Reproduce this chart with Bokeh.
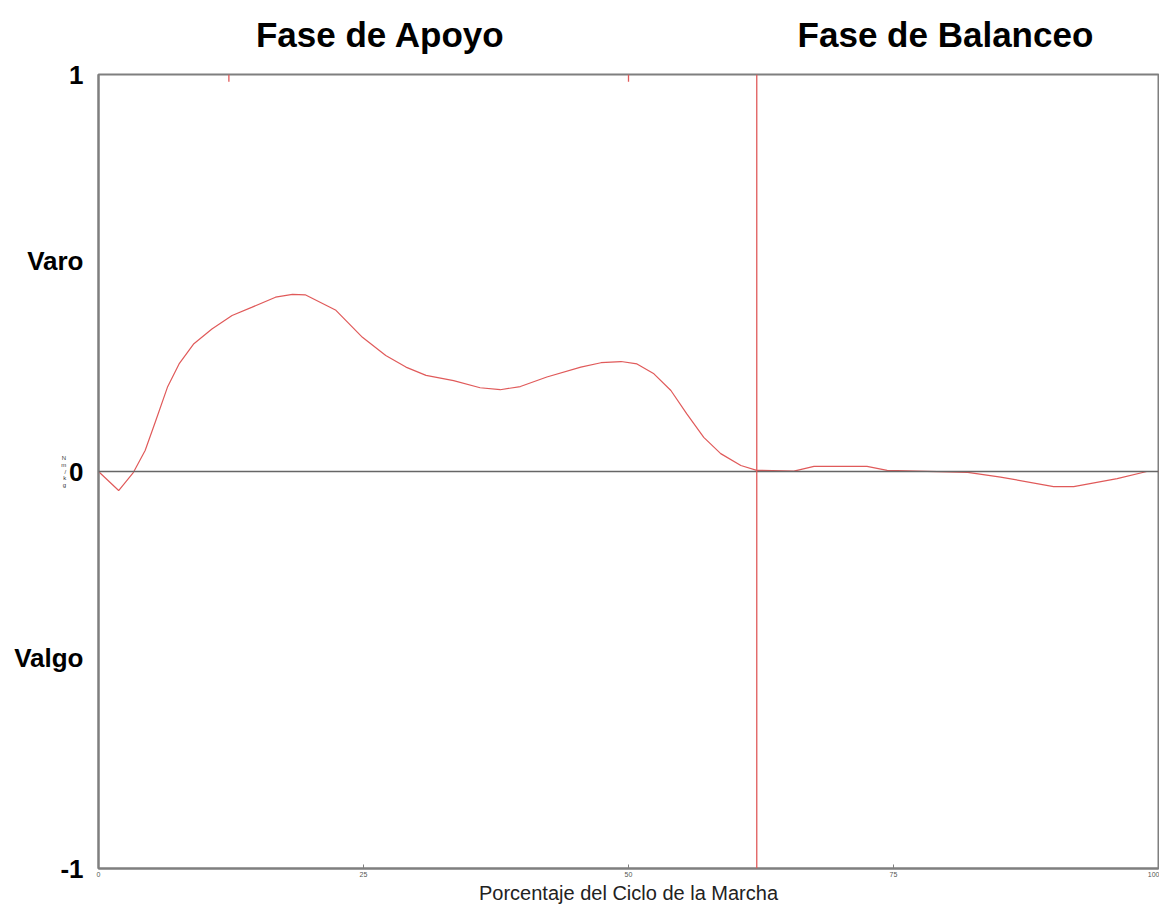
from bokeh.plotting import figure
from bokeh.models import Range1d, FixedTicker, Span, LinearAxis
from bokeh.embed import file_html
from bokeh.resources import INLINE

# Data: knee varus/valgus moment (Nm/kg) vs % gait cycle
pct = [0, 1.9, 3.3, 4.4, 5.4, 6.5, 7.6, 9.0, 10.7, 12.6, 14.5, 16.7, 18.3, 19.5,
       22.4, 24.9, 27.1, 29.0, 30.9, 33.5, 36.0, 37.9, 39.8, 42.3, 45.5, 47.4,
       49.3, 50.8, 52.4, 54.0, 55.5, 57.1, 58.7, 60.6, 62.1, 65.6, 67.5, 72.5,
       74.4, 82.0, 85.1, 90.1, 92.0, 96.1, 98.9, 100]
moment = [0, -0.048, -0.002, 0.053, 0.128, 0.212, 0.271, 0.322, 0.359, 0.393,
          0.414, 0.439, 0.446, 0.445, 0.406, 0.338, 0.292, 0.263, 0.242, 0.229,
          0.211, 0.206, 0.214, 0.238, 0.263, 0.274, 0.277, 0.271, 0.246, 0.204,
          0.145, 0.086, 0.045, 0.015, 0.003, 0.001, 0.013, 0.013, 0.003, -0.002,
          -0.014, -0.038, -0.038, -0.018, 0.0, 0.0]

x_ticks = [0, 25, 50, 75, 100]
y_ticks = [-1, -0.47, 0, 0.53, 1]
y_tick_labels = {1: "1", 0.53: "Varo", 0: "0", -0.47: "Valgo", -1: "-1"}
toe_off = 62.1
top_marks = [12.3, 50]
phase_title_x = [26.6, 79.9]
phase_titles = {26.6: "Fase de Apoyo", 79.9: "Fase de Balanceo"}
x_label = "Porcentaje del Ciclo de la Marcha"
y_unit = "N\nm\n/\nk\ng"

FRAME = "#7f7f7f"
RED = "#e05a5a"

p = figure(width=1159, height=906, output_backend="svg", toolbar_location=None,
           x_range=Range1d(0, 100), y_range=Range1d(-1, 1),
           x_axis_location="below", y_axis_location="left")
p.min_border_left = 98
p.min_border_right = 1
p.min_border_top = 74
p.min_border_bottom = 38
p.xgrid.visible = False
p.ygrid.visible = False
p.outline_line_color = FRAME
p.outline_line_width = 2
p.background_fill_color = "white"
p.border_fill_color = "white"

xa = p.xaxis[0]
xa.ticker = FixedTicker(ticks=x_ticks)
xa.minor_tick_line_color = None
xa.major_tick_in = 4
xa.major_tick_out = 0
xa.major_tick_line_color = FRAME
xa.axis_line_color = FRAME
xa.axis_line_width = 2
xa.major_label_text_font = "Liberation Sans"
xa.major_label_text_font_size = "7px"
xa.major_label_text_color = "#555555"
xa.major_label_standoff = 3
xa.axis_label = x_label
xa.axis_label_text_font = "Liberation Sans"
xa.axis_label_text_font_style = "normal"
xa.axis_label_text_font_size = "20px"
xa.axis_label_text_color = "#222222"
xa.axis_label_standoff = 2

ya = p.yaxis[0]
ya.ticker = FixedTicker(ticks=y_ticks)
ya.major_label_overrides = y_tick_labels
ya.minor_tick_line_color = None
ya.major_tick_line_color = None
ya.axis_line_color = FRAME
ya.axis_line_width = 2
ya.major_label_text_font = "Liberation Sans"
ya.major_label_text_font_style = "bold"
ya.major_label_text_font_size = "26px"
ya.major_label_text_color = "black"
ya.major_label_standoff = 9
ya.axis_label = y_unit
ya.axis_label_orientation = 0.0
ya.axis_label_standoff = -55
ya.axis_label_text_font = "Liberation Sans"
ya.axis_label_text_font_style = "normal"
ya.axis_label_text_font_size = "6px"
ya.axis_label_text_color = "#333333"
ya.axis_label_text_line_height = 1.1

# phase titles as an upper axis
title_axis = LinearAxis(ticker=FixedTicker(ticks=phase_title_x),
                        major_label_overrides=phase_titles,
                        axis_line_color=None, major_tick_line_color=None,
                        minor_tick_line_color=None, major_tick_in=0, major_tick_out=0,
                        major_label_standoff=21,
                        major_label_text_font="Liberation Sans",
                        major_label_text_font_style="bold",
                        major_label_text_font_size="35px",
                        major_label_text_color="black")
p.add_layout(title_axis, "above")

p.add_layout(Span(location=0, dimension="width", line_color="#666666", line_width=1.5))
p.add_layout(Span(location=toe_off, dimension="height", line_color=RED, line_width=1.3))

# small red marks hanging from the top border
p.segment(x0=top_marks, x1=top_marks, y0=[1.0] * len(top_marks), y1=[0.982] * len(top_marks),
          line_color=RED, line_width=1.3)

p.line(pct, moment, line_color=RED, line_width=1.2)

open("out.html", "w").write(file_html(p, INLINE))
